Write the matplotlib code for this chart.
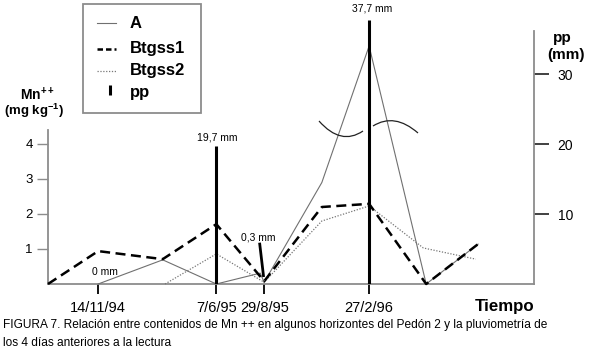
import matplotlib
matplotlib.use("Agg")
import matplotlib.pyplot as plt
from matplotlib.lines import Line2D
from matplotlib.patches import Rectangle, PathPatch
from matplotlib.path import Path

plt.rcParams['font.family'] = ['Liberation Sans', 'DejaVu Sans']
plt.rcParams['mathtext.fontset'] = 'custom'
plt.rcParams['mathtext.rm'] = 'Liberation Sans'
plt.rcParams['mathtext.bf'] = 'Liberation Sans:bold'

# ---- data (x in days since 14/11/94) ----
date_pos = [0, 205, 288, 470]
date_labels = ["14/11/94", "7/6/95", "29/8/95", "27/2/96"]

a_x = [0, 112, 205, 281, 288, 388, 470, 569, 659]
a_y = [0, 0.69, 0, 0.31, 0.05, 2.9, 6.8, 0, 1.14]

b1_x = [-87, 0, 112, 205, 288, 388, 470, 569, 659]
b1_y = [0, 0.94, 0.71, 1.71, 0.08, 2.2, 2.29, 0, 1.14]

b2_x = [116, 205, 288, 388, 470, 564, 655]
b2_y = [0, 0.86, 0.05, 1.8, 2.23, 1.03, 0.71]

pp_x = [0, 205, 288, 470]
pp_val = [0, 19.7, 0.3, 37.7]
pp_labels = ["0 mm", "19,7 mm", "0,3 mm", "37,7 mm"]

W, H = 592, 352
fig = plt.figure(figsize=(W / 100, H / 100), dpi=100)

def fx(px):
    return px / W

def fy(py):
    return 1 - py / H

ax_left, ax_right, ax_bot, ax_top = 48, 534, 284, 9
ax = fig.add_axes([fx(ax_left), fy(ax_bot), (ax_right - ax_left) / W, (ax_bot - ax_top) / H])
ax.set_xlim(-87, 756)
ytop = (ax_bot - ax_top) / 35.0
ax.set_ylim(0, ytop)
ax.patch.set_alpha(0)

ax2 = ax.twinx()
ax2.set_ylim(0, ytop * 5)

grey = "#8c8c8c"
for a in (ax, ax2):
    a.spines['top'].set_visible(False)
    for s in ('left', 'right', 'bottom'):
        a.spines[s].set_color(grey)
        a.spines[s].set_linewidth(1.3)
ax.spines['right'].set_visible(False)
ax2.spines['left'].set_visible(False)
ax2.spines['bottom'].set_visible(False)
ax.spines['left'].set_bounds(0, 4.4)
ax2.spines['right'].set_bounds(0, 36.2)

ax.set_yticks([1, 2, 3, 4])
ax.tick_params(axis='y', length=8, width=1, color=grey, labelsize=9.5, pad=3)
ax2.set_yticks([10, 20, 30])
ax2.tick_params(axis='y', length=11, width=1.3, color="#333333", labelsize=10, pad=6)

ax.set_xticks(date_pos)
ax.set_xticklabels(date_labels)
ax.tick_params(axis='x', length=7.5, width=1.3, color="black", labelsize=10.5, pad=5)

# lines
ax.plot(a_x, a_y, color="#707070", lw=0.8, clip_on=False, zorder=3)
ax.plot(b1_x, b1_y, color="black", lw=1.8, ls=(0, (4, 2.2)), clip_on=False, zorder=4)
ax.plot(b2_x, b2_y, color="#777777", lw=0.9, ls=(0, (1, 1.3)), clip_on=False, zorder=3)

# pp bars
for x, v in zip(pp_x, pp_val):
    if v >= 1:
        ax2.plot([x, x], [0, v], color="black", lw=2.2, solid_capstyle='butt', zorder=5)

tfs = 7.5
ax2.text(pp_x[0] + 12, 1.7, pp_labels[0], fontsize=tfs, ha='center', va='center')
ax2.text(pp_x[1] + 2, pp_val[1] + 1.2, pp_labels[1], fontsize=tfs, ha='center', va='center')
ax2.text(pp_x[3] + 5, pp_val[3] + 1.6, pp_labels[3], fontsize=tfs, ha='center', va='center')
ax2.text(pp_x[2] - 10, 6.6, pp_labels[2], fontsize=tfs, ha='center', va='center')
# pointer for 0.3 mm
ax2.plot([pp_x[2] - 8, pp_x[2] - 1], [5.9, 1.0], color="black", lw=2.0, solid_capstyle='butt', zorder=5)

# break arcs (pixel layout)
def bez(p0, m, p2):
    p1 = (2 * m[0] - (p0[0] + p2[0]) / 2, 2 * m[1] - (p0[1] + p2[1]) / 2)
    verts = [(fx(p0[0]), fy(p0[1])), (fx(p1[0]), fy(p1[1])), (fx(p2[0]), fy(p2[1]))]
    path = Path(verts, [Path.MOVETO, Path.CURVE3, Path.CURVE3])
    fig.patches.append(PathPatch(path, transform=fig.transFigure, fill=False,
                                 edgecolor="#222222", lw=0.9))

bez((319, 121), (341, 136), (363, 131))
bez((373, 126), (395, 121), (418, 133))

# axis labels
fig.text(fx(37), fy(95), r"Mn$^{\mathbf{++}}$", fontsize=10, fontweight='bold', ha='center', va='center')
fig.text(fx(34), fy(111), r"(mg kg$^{\mathbf{-1}}$)", fontsize=9.5, fontweight='bold', ha='center', va='center')
fig.text(fx(562), fy(38), "pp", fontsize=11, fontweight='bold', ha='center', va='center')
fig.text(fx(566), fy(55), "(mm)", fontsize=11, fontweight='bold', ha='center', va='center')
fig.text(fx(505), fy(306), "Tiempo", fontsize=12.2, fontweight='bold', ha='center', va='center')

# legend box
fig.patches.append(Rectangle((fx(83), fy(113)), (201 - 83) / W, (113 - 4) / H,
                             transform=fig.transFigure, fill=False, edgecolor=grey, lw=1.3))
leg_items = [
    ("A", dict(color="#707070", lw=0.8, ls='-')),
    ("Btgss1", dict(color="black", lw=1.8, ls=(0, (2.2, 1.2)))),
    ("Btgss2", dict(color="#777777", lw=0.9, ls=(0, (1, 1.3)))),
]
leg_y = [23, 49, 71]
for (lab, st), yy in zip(leg_items, leg_y):
    fig.lines.append(Line2D([fx(97), fx(116)], [fy(yy), fy(yy)], transform=fig.transFigure, **st))
    fig.text(fx(130), fy(yy), lab, fontsize=12, fontweight='bold', ha='left', va='center')
fig.lines.append(Line2D([fx(110), fx(110)], [fy(85), fy(95)], transform=fig.transFigure,
                        color="black", lw=2.2, solid_capstyle='butt'))
fig.text(fx(130), fy(92), "pp", fontsize=12, fontweight='bold', ha='left', va='center')

# caption
fig.text(fx(3), fy(325), "FIGURA 7. Relación entre contenidos de Mn ++ en algunos horizontes del Pedón 2 y la pluviometría de",
         fontsize=8.6, ha='left', va='center')
fig.text(fx(3), fy(343), "los 4 días anteriores a la lectura", fontsize=8.6, ha='left', va='center')

fig.savefig("out.png", dpi=100)
